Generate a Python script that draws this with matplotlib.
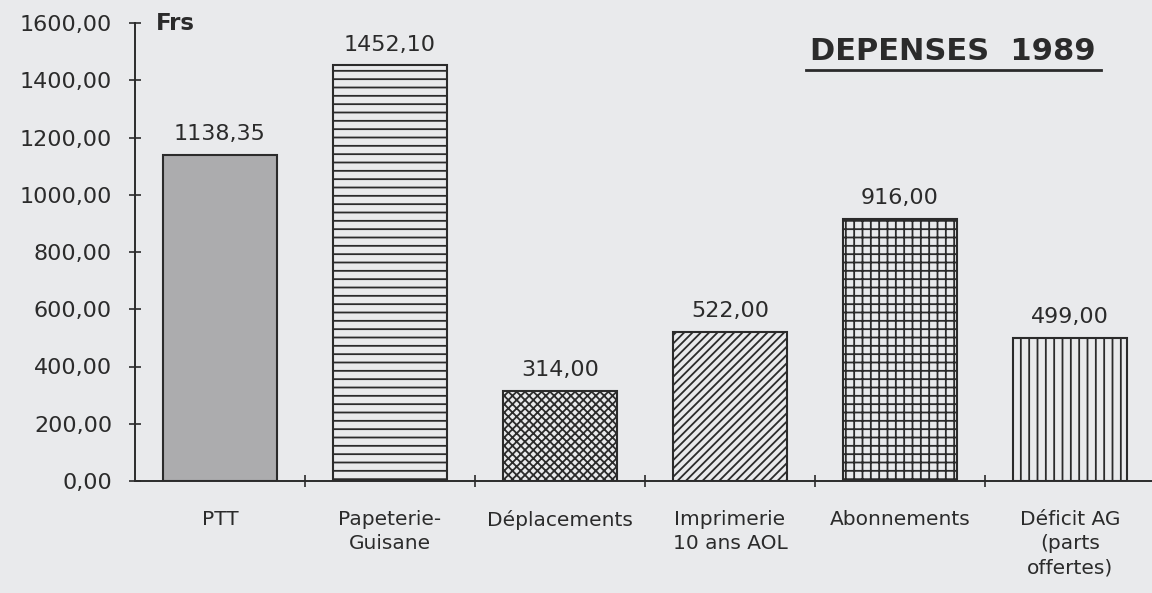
import matplotlib
matplotlib.use('Agg')
import matplotlib.pyplot as plt
from matplotlib.lines import Line2D

# data
categories = ['PTT', 'Papeterie-\nGuisane', 'Déplacements', 'Imprimerie\n10 ans AOL',
              'Abonnements', 'Déficit AG\n(parts\noffertes)']
values = [1138.35, 1452.10, 314.00, 522.00, 916.00, 499.00]
value_labels = ['1138,35', '1452,10', '314,00', '522,00', '916,00', '499,00']
yticks = [0, 200, 400, 600, 800, 1000, 1200, 1400, 1600]

hatches = ['', '--', 'xxxx', '////', '++', '||']
faces = ['#acacae', 'none', 'none', 'none', 'none', 'none']

bg = '#e9eaec'
ink = '#2b2b2b'

plt.rcParams['font.family'] = ['DejaVu Sans']
plt.rcParams['hatch.linewidth'] = 1.3

fig = plt.figure(figsize=(11.52, 5.93), dpi=100, facecolor=bg)
ax = fig.add_axes([135 / 1152, 112 / 593, 1020 / 1152, 458 / 593])
ax.set_facecolor(bg)

x = range(len(values))
for i, v in enumerate(values):
    ax.bar(i, v, width=0.67, facecolor=faces[i], edgecolor=ink,
           hatch=hatches[i], linewidth=1.5, zorder=2)
    ax.annotate(value_labels[i], (i, v), xytext=(0, 15), textcoords='offset points',
                ha='center', va='center', fontsize=16, color=ink)

ax.set_xlim(-0.5, 5.5)
ax.set_ylim(0, 1600)

ax.set_yticks(yticks)
ax.set_yticklabels([f'{t},00' for t in yticks])
ax.tick_params(axis='y', direction='inout', length=9, width=1.2, pad=12,
               labelsize=16, colors=ink)

ax.set_xticks(list(x))
ax.set_xticklabels(categories, linespacing=1.35)
ax.tick_params(axis='x', length=0, pad=21, labelsize=14.5, colors=ink)
ax.set_xticks([i + 0.5 for i in range(5)], minor=True)
ax.tick_params(axis='x', which='minor', direction='inout', length=9, width=1.2, color=ink)

for s in ['top', 'right']:
    ax.spines[s].set_visible(False)
for s in ['left', 'bottom']:
    ax.spines[s].set_color(ink)
    ax.spines[s].set_linewidth(1.4)

ax.text(0.02, 1.0, 'Frs', transform=ax.transAxes, ha='left', va='center',
        fontsize=16.5, fontweight='bold', color=ink)

fig.text(953 / 1152, 1 - 51 / 593, 'DEPENSES  1989', ha='center', va='center',
         fontsize=22, fontweight='bold', color=ink)
fig.add_artist(Line2D([806 / 1152, 1101 / 1152], [1 - 70 / 593, 1 - 70 / 593],
                      color=ink, linewidth=2))

plt.savefig('out.png', dpi=100, facecolor=bg)
